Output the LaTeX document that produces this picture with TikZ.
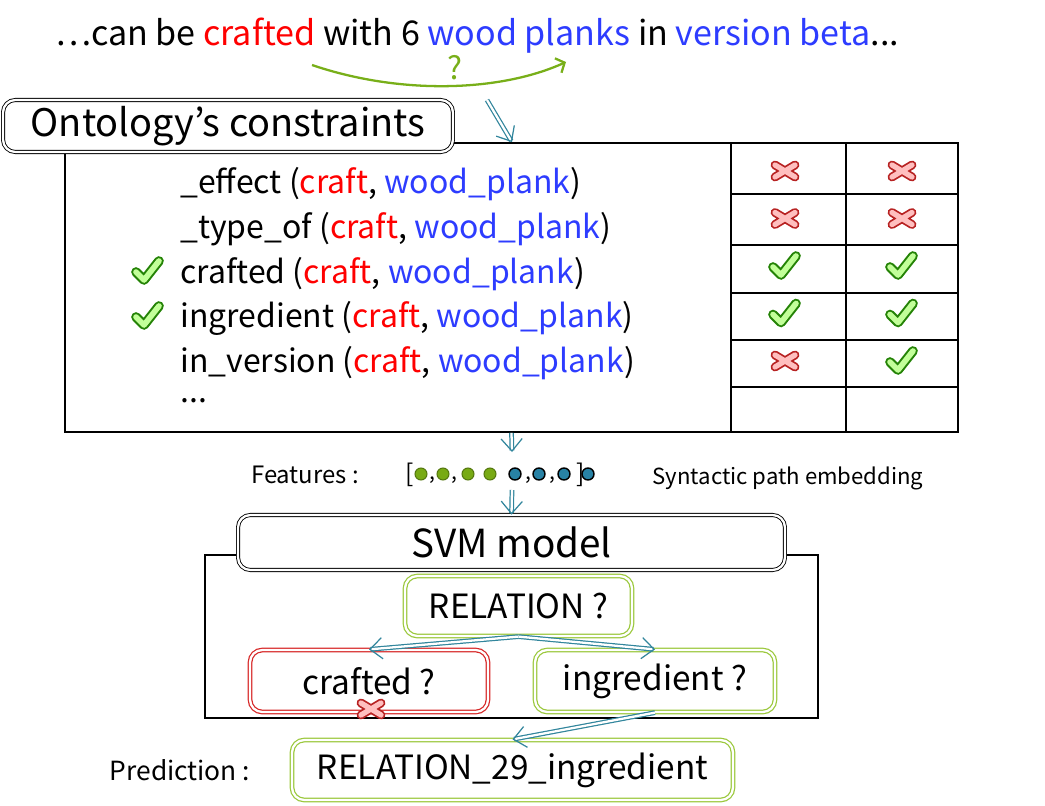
\documentclass[tikz,border=0pt]{standalone}
\usepackage{fontspec}
\setmainfont{Noto Sans CJK JP}
\usetikzlibrary{positioning,arrows.meta,shapes}
\definecolor{wordred}{RGB}{255,0,0}
\definecolor{wordblue}{RGB}{45,60,255}
\definecolor{boxgreen}{RGB}{155,200,60}
\definecolor{boxred}{RGB}{215,40,40}
\definecolor{flowblue}{RGB}{49,133,156}
\definecolor{curvegreen}{RGB}{120,175,25}
\definecolor{dotgreen}{RGB}{120,170,20}
\definecolor{dotblue}{RGB}{40,130,165}
\tikzset{
  titlebox/.style={draw, double, double distance=1.3pt, line width=0.5pt, rounded corners=7pt, fill=white, inner sep=0pt},
  greenbox/.style={draw=boxgreen, double, double distance=1.3pt, line width=0.7pt, rounded corners=7pt, fill=white, inner sep=0pt, font=\fontsize{19}{22}\selectfont},
  redbox/.style={greenbox, draw=boxred},
  flow/.style={draw=flowblue, double=white, double distance=1.3pt, line width=0.7pt, -{Straight Barb[length=7pt,width=12pt]}},
  rowtext/.style={anchor=west, inner sep=0pt, font=\fontsize{18.2}{20}\selectfont},
  pics/okmark/.style={code={
    \draw[line width=5.5pt, green!45!black!70!dotgreen, line cap=round, line join=round] (-12,1) -- (-4,9) -- (11,-10);
    \draw[line width=3.2pt, green!60!yellow!40, line cap=round, line join=round] (-12,1) -- (-4,9) -- (11,-10);
  }},
  pics/nomark/.style={code={
    \draw[line width=5pt, boxred!85!black, line cap=round] (-10,-6) -- (10,6) (-10,6) -- (10,-6);
    \draw[line width=3pt, red!25, line cap=round] (-10,-6) -- (10,6) (-10,6) -- (10,-6);
  }},
}
\begin{document}
\begin{tikzpicture}[x=0.02cm, y=-0.02cm]
\useasboundingbox (0,0) rectangle (1045,805);
% the sentence
\node[anchor=west, inner sep=0pt, font=\fontsize{19.4}{22}\selectfont] (sent) at (55,36)
  {…can be \textcolor{wordred}{crafted} with 6 \textcolor{wordblue}{wood planks} in \textcolor{wordblue}{version beta}...};
\coordinate (qs) at (312,65);
\coordinate (qe) at (566,62);
\draw[curvegreen, line width=1.3pt, -{Straight Barb[length=4pt,width=9pt]}] (qs) .. controls (400,95) and (500,92) .. (qe);
\node[curvegreen, font=\fontsize{18}{20}\selectfont] (qmark) at (455,68) {?};
% ontology box
\node[draw, line width=1pt, minimum width=17.86cm, minimum height=5.78cm] (onto) at (511.5,287.5) {};
\node[titlebox, minimum width=9cm, minimum height=1.04cm, font=\fontsize{21.6}{24}\selectfont] (ontotitle) at (228,126) {Ontology’s constraints};
\coordinate (ontoin) at (487,100);
\draw[flow] (ontoin) -- (onto.north -| 512,0);
\foreach \rel [count=\i] in {\_effect, \_type\_of, crafted, ingredient, in\_version}
  \node[rowtext] (rel\i) at (180, 184+44.8*\i-44.8) {\rel\ (\textcolor{wordred}{craft}, \textcolor{wordblue}{wood\_plank})};
\node[rowtext] (reldots) at (180,401) {...};
\pic at (148,271) {okmark};
\pic at (148,316) {okmark};
% table of marks
\draw[line width=1pt] (731,143) -- (731,432) (846,143) -- (846,432);
\foreach \y in {194,245,293,340,387}
  \draw[line width=1pt] (731,\y) -- (958,\y);
\foreach \a/\b [count=\i] in {nomark/nomark, nomark/nomark, okmark/okmark, okmark/okmark, nomark/okmark} {
  \pic at (785, 171+47.5*\i-47.5) {\a};
  \pic at (902, 171+47.5*\i-47.5) {\b};
}
% features
\coordinate (featin) at (512,452);
\draw[flow] (onto.south) -- (featin);
\node[font=\fontsize{13.6}{16}\selectfont] (feat) at (305,475) {Features :};
\node[font=\fontsize{14}{16}\selectfont] (lbrack) at (410,475) {[};
\node[font=\fontsize{14}{16}\selectfont] (rbrack) at (581,475) {]};
\foreach \x in {432,454,528,552}
  \node[font=\fontsize{12}{15}\selectfont] at (\x,480) {,};
\foreach \x in {421,443,468,490}
  \filldraw[fill=dotgreen, draw=dotgreen!70!black, line width=0.6pt] (\x,474) circle (6);
\foreach \x in {515,539,564,588}
  \filldraw[fill=dotblue, draw=black, line width=0.8pt] (\x,474) circle (6);
\node[font=\fontsize{12.6}{15}\selectfont] (synt) at (788,478) {Syntactic path embedding};
% svm model
\coordinate (featout) at (512,490);
\node[draw, line width=1pt, minimum width=12.26cm, minimum height=3.26cm] (svm) at (511.5,636.5) {};
\node[titlebox, minimum width=10.94cm, minimum height=1.1cm, font=\fontsize{22}{24}\selectfont] (svmtitle) at (511.5,542.5) {SVM model};
\draw[flow] (featout) -- (svmtitle.north);
\node[greenbox, minimum width=4.54cm, minimum height=1.2cm] (relq) at (518.5,606) {RELATION ?};
\node[redbox, minimum width=4.76cm, minimum height=1.24cm] (craftq) at (369,681) {crafted ?};
\node[greenbox, minimum width=4.8cm, minimum height=1.24cm] (ingq) at (655,681) {ingredient ?};
\pic at (371,709) {nomark};
\draw[flow] (relq.south) -- (craftq.north);
\draw[flow] (relq.south) -- (ingq.north);
% prediction
\node[greenbox, minimum width=8.82cm, minimum height=1.2cm] (pred) at (512.5,770) {RELATION\_29\_ingredient};
\node[font=\fontsize{15}{17}\selectfont] (predlabel) at (180,770) {Prediction :};
\draw[flow] (ingq.south) -- (pred.north);
\end{tikzpicture}
\end{document}
